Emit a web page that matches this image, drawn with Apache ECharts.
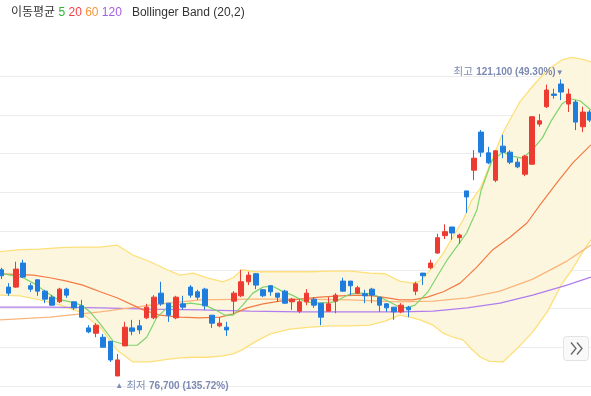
<!DOCTYPE html>
<html><head><meta charset="utf-8">
<script src="https://cdn.jsdelivr.net/npm/echarts@6/dist/echarts.min.js"></script>
<style>html,body{margin:0;padding:0;background:#fff}#c{width:591px;height:396px}</style>
</head><body><div id="c"></div>
<script>
const opens = [92600,90000,90000,93600,90200,91100,89400,88500,87800,89700,
 87800,87200,83900,83100,82500,81900,76700,81200,83900,84200,
 85400,85400,89100,87600,85400,87500,90000,89300,89700,85800,
 84200,84000,87900,88700,90800,92000,89600,90200,89100,89400,
 87800,86400,87800,88200,87600,86400,87900,90900,90900,89100,
 89000,89700,88500,87500,87000,86300,87000,89400,92100,92900,
 95100,97700,99000,97400,104400,107500,113200,110100,106000,111100,
 110200,108700,106900,108400,114400,117000,118900,120400,117400,117700,
 114000,116200];
const closes = [91700,89100,92700,91500,89700,89400,88200,87300,89700,88800,
 86900,85500,83300,84300,81000,79100,79100,84000,83400,83600,
 87000,88500,87500,85800,88500,87000,88800,88500,87200,84600,
 84600,83600,89100,90800,91800,90300,88700,89300,88500,87600,
 88200,87800,89100,87300,85500,87500,88800,89400,90200,89900,
 88700,88800,87300,86900,86300,87300,86600,90500,91700,93600,
 97400,98300,98100,97800,103500,109300,110200,108600,110400,110200,
 108700,108000,109600,115500,114900,119500,118700,119200,118900,114700,
 116200,115000];
const lows = [91200,88700,89900,91400,89300,88700,87600,87200,87600,88400,
 86600,85400,83100,82500,81000,78800,76700,81200,82800,83000,
 85200,85200,87200,84800,85200,86600,88400,88100,86600,83900,
 84000,82700,86000,88500,90300,89700,88500,88700,87800,87500,
 86600,86100,87300,86900,84300,86400,86100,89300,88800,89000,
 87600,87600,86300,86300,85100,86100,85500,88800,90300,92700,
 95000,97200,97100,96500,101100,106000,109500,108400,105700,109300,
 108400,107800,106600,108300,114000,116800,118200,118000,116200,113500,
 113200,114700];
const highs = [92900,90600,93800,94100,90600,91100,89600,88800,89900,89900,
 87800,88100,84300,84600,83000,81900,80000,84800,85100,85100,
 87500,88800,90800,87600,88700,88700,90300,89600,89900,85800,
 85500,84800,89400,92600,92300,92100,89700,90300,89100,89600,
 88400,88200,89700,88500,87600,88500,89100,91400,90900,90200,
 89600,89900,88500,87600,87000,87600,87200,90800,92100,94100,
 98000,99400,99000,98000,104400,110500,113500,111000,110500,112800,
 110500,109300,109800,115600,115900,120300,119700,121100,119700,118000,
 117000,116500];

const ma5 = [[-0.2,92100],[3,91400],[4.4,90600],[6,89400],[7.7,88200],[9.5,87800],[11,87300],[12.2,86300],[13.6,84500],[15.4,81900],[17.3,81300],[18.7,81300],[20,82500],[21.4,85500],[22.8,86900],[24.2,87300],[26,87600],[28,87300],[29.4,86600],[30.8,85800],[31.9,85800],[33.2,87300],[34.6,89100],[36,90000],[37.2,90200],[38.6,89400],[40,88800],[41.8,87800],[43.8,87600],[45.9,87800],[48,89000],[49.6,89100],[51,89000],[52.8,88100],[54.4,87200],[55.8,86900],[56.9,87300],[57.6,88100],[58.7,89300],[60,91700],[61.4,94200],[62.8,96300],[64,98100],[65.4,101500],[66,104500],[67.5,109000],[69,110200],[70.3,109600],[71.6,109300],[73,110500],[74.4,112300],[75.7,115000],[77.1,117400],[78.2,118200],[79.6,117900],[81.1,116500]];
const ma20 = [[-0.2,92000],[4.4,91800],[6.7,91400],[9,90900],[11.2,90300],[13.6,89300],[15.9,88400],[18.1,87300],[19.5,86600],[21.8,85800],[24.6,85500],[27.3,85400],[30.1,85500],[31.9,86000],[33.8,86900],[36,87500],[38.3,87900],[41.1,88200],[43.8,88500],[46.6,88700],[49.3,88800],[51.1,88700],[53.1,88400],[54.8,88100],[56.6,88100],[58.6,88500],[60.8,89300],[63.1,90600],[65.4,93000],[67.6,95600],[70,97500],[72.3,99600],[74.1,102300],[76.4,105600],[78.6,108600],[81.1,111300]];
const ma60 = [[-0.2,85100],[6.7,85500],[13.6,86300],[20.5,87300],[27.3,88100],[34.2,88200],[41.1,88200],[48,88100],[54.8,87800],[59.4,87900],[64.1,88400],[68.6,89400],[73.1,91200],[77.8,93900],[81.1,96300]];
const ma120 = [[-0.2,87000],[6.7,87000],[13.6,86900],[20.5,86700],[27.3,86600],[34.2,86400],[41.1,86300],[48,86300],[54.8,86300],[59.4,86400],[64.1,86900],[68.6,87600],[73.1,88800],[77.8,90300],[81.1,91500]];

const bbX = [-0.2,2.6,5.3,8.1,10.8,13.6,15.9,18.1,20.5,22.8,24.6,26.4,28.3,30.5,31.9,33.1,34.9,37,39.7,42.5,45.2,48,50.7,52.8,54.8,56.6,57.6,59.4,60.8,62.1,63.5,64.7,65.9,67.2,69,71.3,73.1,75.1,77.1,78.5,80,81.1];
const bbUpper = [95300,95600,95700,95900,96000,96000,96300,94800,93800,92600,91800,92100,91400,90800,91400,92600,92300,92300,92300,92300,92400,92400,92100,92000,90900,90600,90900,93000,95100,97500,100000,103000,104800,108300,113100,117700,120100,122500,124000,124400,124100,123700];
const bbLower = [88800,88700,88100,87300,86300,84000,80600,78800,78800,79200,79400,79500,79500,79700,80000,80600,81800,83000,83700,84000,84200,84200,84300,84900,85800,85400,85100,84300,83100,82500,82100,80700,79500,78900,78800,81200,83300,86300,90500,92600,95300,97100];

const legendLabels = ['5','20','60','120'];
const highText = '121,100 (49.30%)';
const lowText = '76,700 (135.72%)';

const UP = '#ee3b32', DOWN = '#1f7ddd';
const F = '"Liberation Sans", "Noto Sans CJK KR", sans-serif';
const LBL = '#7d8ab2';

const candleData = opens.map((o, i) => [i, o, closes[i], lows[i], highs[i]]);
const hiVal = Math.max(...highs), hiIdx = highs.indexOf(hiVal);
const loVal = Math.min(...lows), loIdx = lows.indexOf(loVal);

function lineSeries(name, data, color, width) {
  return {name, type:'line', data, showSymbol:false, symbol:'none', silent:true,
    lineStyle:{color, width}, z:3, emphasis:{disabled:true}};
}

const chart = echarts.init(document.getElementById('c'), null, {renderer:'canvas'});
chart.setOption({
  animation:false,
  backgroundColor:'#fff',
  grid:{left:0, right:0, top:37.25, bottom:10},
  xAxis:{type:'value', min:-0.179, max:81.11, show:true,
    axisLine:{show:false}, axisTick:{show:false}, axisLabel:{show:false}, splitLine:{show:false}},
  yAxis:{type:'value', min:75200, max:127400, interval:5800,
    axisLine:{show:false}, axisTick:{show:false}, axisLabel:{show:false},
    splitLine:{show:true, showMaxLine:false, showMinLine:true, lineStyle:{color:'#ececec', width:1}}},
  series:[
    {type:'custom', silent:true, z:1, data:[[0, 100000]],
      renderItem:function(params, api){
        const pts = [];
        for (let i=0;i<bbX.length;i++) pts.push(api.coord([bbX[i], bbUpper[i]]));
        for (let i=bbX.length-1;i>=0;i--) pts.push(api.coord([bbX[i], bbLower[i]]));
        return {type:'polygon', shape:{points:pts}, style:{fill:'#fdf6de', stroke:null}};
      }},
    lineSeries('bbU', bbX.map((x,i)=>[x,bbUpper[i]]), '#fde07a', 1.3),
    lineSeries('bbL', bbX.map((x,i)=>[x,bbLower[i]]), '#fde07a', 1.3),
    lineSeries('ma120', ma120, '#b17cf0', 1.3),
    lineSeries('ma60', ma60, '#fbb57c', 1.3),
    lineSeries('ma20', ma20, '#f47a45', 1.2),
    lineSeries('ma5', ma5, '#7fd46e', 1.2),
    {type:'candlestick', data:candleData, barWidth:5, z:5, silent:true,
      itemStyle:{color:UP, color0:DOWN, borderColor:UP, borderColor0:DOWN, borderWidth:1},
      emphasis:{disabled:true},
      markPoint:{symbol:'circle', symbolSize:1, silent:true, itemStyle:{color:'rgba(0,0,0,0)'},
        data:[
          {coord:[hiIdx, hiVal], label:{show:true, position:'left', distance:-3, offset:[0,-7],
            formatter:'{k|최고} {v|' + highText + '}{t|▼}',
            rich:{k:{color:LBL, fontSize:10.5, fontFamily:F}, v:{color:LBL, fontSize:10, fontWeight:'bold', fontFamily:F}, t:{color:LBL, fontSize:8, fontFamily:F}}}},
          {coord:[loIdx, loVal], label:{show:true, position:'right', distance:-3, offset:[0,10],
            formatter:'{t|▲} {k|최저} {v|' + lowText + '}',
            rich:{k:{color:LBL, fontSize:10.5, fontFamily:F}, v:{color:LBL, fontSize:10, fontWeight:'bold', fontFamily:F}, t:{color:LBL, fontSize:8, fontFamily:F}}}}
        ]}}
  ],
  graphic:[
    {type:'text', x:11, y:13, silent:true, style:{
      text:'{k|이동평균} {g|' + legendLabels[0] + '} {r|' + legendLabels[1] + '} {o|' + legendLabels[2] + '} {p|' + legendLabels[3] + '}   {k|Bollinger Band (20,2)}',
      verticalAlign:'middle', align:'left',
      rich:{
        k:{fill:'#333', fontSize:12, fontFamily:F},
        g:{fill:'#30b430', fontSize:12, fontFamily:F},
        r:{fill:'#f0424a', fontSize:12, fontFamily:F},
        o:{fill:'#f6953a', fontSize:12, fontFamily:F},
        p:{fill:'#a55ee6', fontSize:12, fontFamily:F}
      }}},
    {type:'rect', silent:true, shape:{x:563.5, y:336.5, width:25, height:24, r:3}, style:{fill:'#f9f9fa', stroke:'#e3e3e3', lineWidth:1}, z:10},
    {type:'polyline', silent:true, shape:{points:[[571,342.5],[576,348.5],[571,354.5]]}, style:{stroke:'#666', lineWidth:1.3, fill:null}, z:11},
    {type:'polyline', silent:true, shape:{points:[[577,342.5],[582,348.5],[577,354.5]]}, style:{stroke:'#666', lineWidth:1.3, fill:null}, z:11}
  ]
});
</script>
</body></html>
